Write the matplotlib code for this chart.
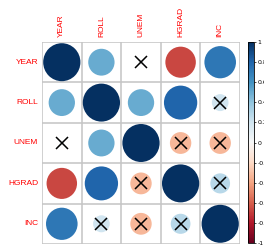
import matplotlib
matplotlib.use("Agg")
import matplotlib.pyplot as plt
import numpy as np
from matplotlib.patches import Circle
from matplotlib.colors import Normalize
from matplotlib.cm import ScalarMappable

# variables and correlation matrix
labels = ["YEAR", "ROLL", "UNEM", "HGRAD", "INC"]
corr = np.array([
    [1.00, 0.50, 0.02, -0.67, 0.72],
    [0.50, 1.00, 0.50, 0.80, 0.20],
    [0.02, 0.50, 1.00, -0.33, -0.33],
    [-0.67, 0.80, -0.33, 1.00, 0.28],
    [0.72, 0.20, -0.33, 0.28, 1.00],
])
# non significant pairs get a cross
insig = np.array([
    [0, 0, 1, 0, 0],
    [0, 0, 0, 0, 1],
    [1, 0, 0, 1, 1],
    [0, 0, 1, 0, 1],
    [0, 1, 1, 1, 0],
], dtype=bool)
cbar_ticks = [-1, -0.8, -0.6, -0.4, -0.2, 0, 0.2, 0.4, 0.6, 0.8, 1]

W, H = 264, 245
fig = plt.figure(figsize=(W / 100, H / 100), dpi=100)
ax = fig.add_axes([42 / W, 1 / H, 198 / W, 202 / H])

cmap = plt.get_cmap("RdBu")
norm = Normalize(-1, 1)
n = len(labels)

for i in range(n):
    for j in range(n):
        r = corr[i, j]
        rad = 0.47 * np.sqrt(abs(r))
        ax.add_patch(Circle((j + 0.5, i + 0.5), rad, facecolor=cmap(norm(r)),
                            edgecolor="none", zorder=2))
        if insig[i, j]:
            ax.plot(j + 0.5, i + 0.5, marker="x", ms=8, mew=1.1, color="black", zorder=3)

for k in range(n + 1):
    ax.axhline(k, color="#c4c4c4", lw=1.1, zorder=1)
    ax.axvline(k, color="#c4c4c4", lw=1.1, zorder=1)

ax.set_xlim(0, n)
ax.set_ylim(n, 0)
ax.set_xticks([])
ax.set_yticks([])
for s in ax.spines.values():
    s.set_visible(False)

for k, lab in enumerate(labels):
    ax.text(-0.1, k + 0.5, lab, color="red", fontsize=6, ha="right", va="center",
            family="Liberation Sans")
    ax.text(k + 0.5, -0.12, lab, color="red", fontsize=6, ha="center", va="bottom",
            rotation=90, family="Liberation Sans")

# colour legend
cax = fig.add_axes([248 / W, 2 / H, 6 / W, 201 / H])
cb = fig.colorbar(ScalarMappable(norm=norm, cmap=cmap), cax=cax, ticks=cbar_ticks)
cb.outline.set_linewidth(0.6)
cb.ax.tick_params(labelsize=4.5, length=1.5, width=0.5, pad=1)
cb.ax.set_yticklabels([("%g" % t) for t in cbar_ticks])

fig.savefig("out.png", dpi=100)
